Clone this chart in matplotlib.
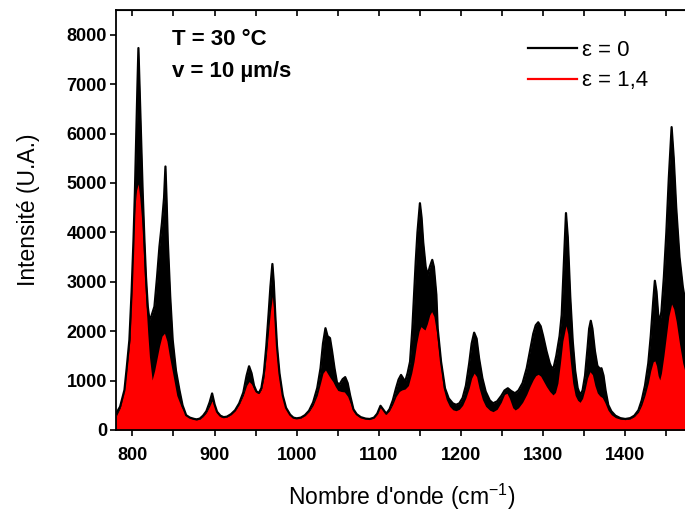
import numpy as np
import matplotlib
matplotlib.use('Agg')
import matplotlib.pyplot as plt
from matplotlib.ticker import MultipleLocator, NullFormatter
from matplotlib.lines import Line2D

# ---- data ----
wn_eps0 = [780, 785, 790.3, 793, 796.3, 799, 801.3, 803, 804.5, 806, 807.3, 809, 810.6, 812.5,
           814.6, 816.5, 818.7, 820.7, 823, 826.8, 830, 832.9, 836, 838.5, 840.2, 841.5, 843,
           846, 849, 853, 857.2, 861, 865.4, 870,
           875, 878, 882, 886, 890, 894, 897, 900, 903, 907, 911, 915, 920, 925, 930, 935,
           939, 942, 945, 948, 951, 954, 957, 960, 963, 966, 968, 970.4, 972, 974, 976, 979,
           983, 987, 992, 996, 1000, 1005, 1010, 1015, 1020, 1025, 1029, 1032, 1035, 1037.5,
           1040.5, 1043, 1046, 1049, 1052, 1056, 1059, 1062, 1065, 1069, 1073, 1078, 1084,
           1089, 1094, 1098, 1102, 1105, 1109, 1113, 1117, 1121, 1124, 1127, 1132, 1135, 1138,
           1140.8, 1142.8, 1144.9, 1147, 1150, 1152, 1154, 1157, 1159.5, 1162, 1165, 1167, 1170,
           1171.6, 1175.7, 1180.5, 1185, 1190, 1194, 1198, 1202, 1206, 1210, 1213, 1216, 1219,
           1222, 1226,
           1230, 1235, 1239, 1244, 1249, 1253, 1257, 1261, 1265.7, 1270, 1275, 1280, 1284,
           1288, 1291, 1294, 1297, 1300, 1304, 1308, 1310.5, 1313, 1316, 1320, 1322.6, 1325,
           1327.8, 1330, 1333, 1336, 1339, 1342, 1345, 1348, 1351, 1354, 1356, 1358, 1360,
           1363, 1366, 1369, 1371, 1373.5, 1376, 1379.3, 1383, 1388, 1394, 1400, 1406, 1411,
           1416, 1420, 1424, 1428, 1431, 1434, 1436, 1438, 1440, 1442, 1444, 1447, 1450, 1453,
           1456.4, 1459, 1462, 1466, 1470, 1474, 1480]
int_eps0 = [330, 472, 810, 1250, 1823, 2800, 3848, 4800, 5873, 6900, 7730, 6800, 5873, 4800,
            3848, 3100, 2498, 2228, 2300, 2498, 3100, 3712, 4200, 4700, 5333, 4700, 3848,
            2700, 1823, 1200, 810, 500, 300, 250,
            225, 215, 230, 290, 380, 560, 740, 520, 370, 290, 260, 270, 320,
            400, 540, 760, 1100, 1290, 1150, 900, 780, 750, 850, 1150, 1700, 2400, 2900, 3360,
            3000, 2300, 1700, 1150, 700, 450, 310, 250, 236, 250, 300, 390, 560, 850, 1250, 1750,
            2060, 1900, 1860, 1600, 1250, 960, 920, 1030, 1070, 950, 700, 420, 320, 260, 230,
            223, 250, 330, 490, 420, 330, 420, 600, 850, 1020, 1114, 980, 1150, 1384,
            2059, 2734, 3409, 4000, 4590, 4300, 3800, 3300, 3139, 3300, 3443, 3300, 2734,
            2059, 1384, 844, 640, 540, 510, 540, 650, 900, 1350, 1750, 1970, 1850,
            1450, 1050, 780, 600, 540,
            580, 690, 800, 845, 790, 743, 800, 950, 1250, 1600, 1950, 2120, 2180, 2100, 1900,
            1600, 1350, 1250, 1280, 1500, 1900, 2330, 3300, 4390, 3900, 2700, 1800, 1200, 850,
            710, 800, 1100, 1650, 2050, 2210, 2050, 1600, 1300, 1240, 1250, 1100, 800, 506, 380,
            290, 240, 223, 240, 290, 400, 600, 900, 1350, 1900, 2600, 3020, 2800, 2350, 2160,
            2400, 3100, 4000, 5100, 6130, 5500, 4500, 3500, 2900, 2500, 2000]

wn_eps14 = [780, 785, 790, 793, 797, 799, 800.9, 803, 805, 807, 809, 811, 812.6, 814.7, 816.7,
            818.7, 820.7, 824, 827, 830, 833, 836, 839, 842, 845, 849, 854, 859.3, 865, 870,
            875, 878,
            882, 886, 890, 894, 897, 900, 903, 907, 911, 915, 920, 925, 930, 935, 939, 942, 945,
            948, 951, 954, 957, 960, 963, 966, 968, 970.4, 972, 974, 976, 979, 983, 987, 992,
            996, 1000, 1005, 1010, 1015, 1020, 1025, 1029, 1032, 1035, 1038, 1041, 1044, 1047,
            1050, 1054, 1058, 1062, 1065, 1069, 1073, 1078, 1084, 1089, 1094, 1098, 1102, 1105,
            1109, 1113, 1117, 1121, 1125, 1128, 1132, 1136, 1140, 1142.8, 1146, 1149, 1151.3,
            1154, 1156.2, 1159, 1162, 1164.3, 1167, 1170, 1172, 1174.5, 1178.5, 1182, 1186,
            1190, 1194, 1198, 1202,
            1206, 1210, 1213, 1216, 1219, 1222, 1226, 1230, 1235, 1239, 1244, 1249, 1253, 1256,
            1259, 1263, 1266, 1270, 1275, 1280, 1284, 1288, 1291, 1294, 1297, 1300, 1304, 1308,
            1312, 1315, 1318, 1321, 1324, 1327.8, 1330, 1333, 1336, 1339, 1342, 1345, 1348,
            1351, 1354, 1357, 1360, 1363, 1366, 1369, 1372, 1375, 1379, 1383, 1388, 1394, 1400,
            1406, 1411, 1416, 1420, 1424, 1428, 1431, 1434, 1436, 1438, 1440, 1442, 1444, 1447,
            1450, 1453, 1456.4, 1459, 1462, 1466, 1470, 1474, 1480]
int_eps14 = [270, 440, 780, 1200, 1823, 2700, 3848, 4500, 4850, 4980, 4700, 4300, 3848, 3100,
             2498, 1950, 1485, 1013, 1200, 1450, 1700, 1900, 1958, 1800, 1500, 1148, 700, 472,
             300, 240, 215, 205,
             220, 270, 350, 480, 590, 460, 340, 270, 250, 265, 310, 390, 520,
             700, 900, 980, 930, 820, 760, 740, 820, 1050, 1500, 2050, 2400, 2700, 2450, 1950,
             1450, 1000, 640, 420, 300, 245, 232, 245, 290, 370, 500, 700, 950, 1150, 1215, 1130,
             1050, 980, 880, 800, 780, 770, 680, 550, 380, 300, 250, 225, 220, 245, 320, 470,
             400, 320, 390, 520, 680, 780, 810, 830, 900, 1150, 1384, 1750, 2000, 2093,
             2050, 2025, 2150, 2330, 2396, 2300, 2000, 1700, 1384, 844, 620, 480,
             410, 390, 420, 500, 650, 850,
             1050, 1150, 1080, 850, 620, 480, 400, 371, 420, 560, 720, 743, 640, 450, 405, 450,
             560, 720, 880, 1020, 1100, 1127, 1090, 1000, 880, 780, 710, 760, 950, 1350, 1800,
             2110, 1950, 1400, 950, 700, 600, 560, 640, 820, 1050, 1180, 1120, 900, 750, 690,
             655, 560, 400, 310, 250, 220, 210, 225, 270, 360, 500, 700, 950, 1200, 1380, 1400,
             1300, 1100, 1013, 1150, 1500, 1900, 2300, 2550, 2450, 2200, 1750, 1350, 1100, 850]

x_ticks = [800, 900, 1000, 1100, 1200, 1300, 1400]
y_ticks = [0, 1000, 2000, 3000, 4000, 5000, 6000, 7000, 8000]
legend_labels = ['\u03b5 = 0', '\u03b5 = 1,4']
series_colors = ['black', '#ff0000']
annotation_lines = ['T = 30 \u00b0C', 'v = 10 \u00b5m/s']
x_label = "Nombre d'onde (cm$^{\\mathregular{-1}}$)"
y_label = 'Intensit\u00e9 (U.A.)'

# ---- style ----
plt.rcParams['font.family'] = ['Liberation Sans', 'DejaVu Sans']
plt.rcParams['mathtext.fontset'] = 'custom'
plt.rcParams['mathtext.rm'] = 'Liberation Sans'
plt.rcParams['mathtext.it'] = 'Liberation Sans:italic'
plt.rcParams['mathtext.bf'] = 'Liberation Sans:bold'

W, H = 685, 512
fig = plt.figure(figsize=(W / 100, H / 100), dpi=100)
ax = fig.add_axes([116 / W, 82 / H, 575 / W, 420 / H])

ax.fill_between(wn_eps0, 0, int_eps0, color=series_colors[0], lw=0)
ax.plot(wn_eps0, int_eps0, color=series_colors[0], lw=1.6)
ax.fill_between(wn_eps14, 0, int_eps14, color=series_colors[1], lw=0)

ax.set_xlim(780, 1480)
ax.set_ylim(0, 8500)

ax.set_xticks(x_ticks)
ax.xaxis.set_minor_locator(MultipleLocator(50))
ax.set_yticks(y_ticks)

for s in ax.spines.values():
    s.set_linewidth(1.3)

ax.tick_params(axis='x', which='both', direction='out', length=4.5, width=1.2,
               pad=7.5, labelsize=13, top=False)
ax.tick_params(axis='y', which='both', direction='out', length=4, width=1.2,
               pad=2.5, labelsize=13, right=False)
for lab in ax.get_xticklabels() + ax.get_yticklabels():
    lab.set_fontweight('bold')

# mirrored inward ticks on top and right
secx = ax.secondary_xaxis('top')
secx.set_xticks(list(range(800, 1481, 50)))
secx.tick_params(direction='in', length=4.5, width=1.2, labeltop=False)
secx.xaxis.set_major_formatter(NullFormatter())
secy = ax.secondary_yaxis('right')
secy.set_yticks(y_ticks)
secy.tick_params(direction='in', length=4, width=1.2, labelright=False)
secy.yaxis.set_major_formatter(NullFormatter())

ax.set_xlabel(x_label, fontsize=16.5, va='baseline')
ax.xaxis.set_label_coords((402 - 116) / 575, -(505 - 430) / 420)
ax.set_ylabel(y_label, fontsize=16.5)
ax.yaxis.set_label_coords(-(116 - 40) / 575, (430 - 210) / 420)

handles = [Line2D([], [], color=c, lw=1.6) for c in series_colors]
ax.legend(handles, legend_labels, loc='upper left',
          bbox_to_anchor=(528 / W, 1 - 40 / H), bbox_transform=fig.transFigure,
          frameon=False, fontsize=16, handlelength=2.2, handletextpad=0.25,
          labelspacing=0.42, borderpad=0, borderaxespad=0)

fig.text(172 / W, 1 - 45 / H, annotation_lines[0], fontsize=16, fontweight='bold',
         va='baseline', ha='left')
fig.text(172 / W, 1 - 77 / H, annotation_lines[1], fontsize=16, fontweight='bold',
         va='baseline', ha='left')

fig.savefig('out.png', dpi=100)
